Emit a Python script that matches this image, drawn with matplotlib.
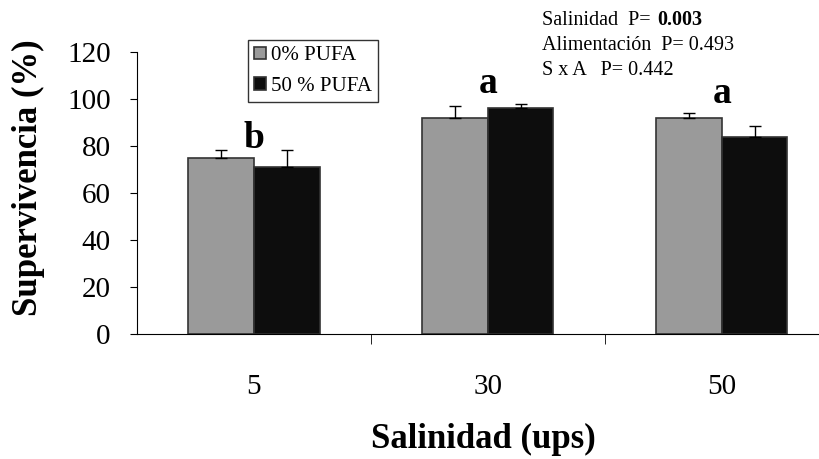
import numpy as np
import matplotlib
matplotlib.use('Agg')
import matplotlib.pyplot as plt

salinidad = ['5', '30', '50']
pufa0 = [75, 92, 92]
pufa0_err = [3.5, 5, 2]
pufa50 = [71, 96, 84]
pufa50_err = [7.5, 1.7, 4.6]
letras = ['b', 'a', 'a']
letras_y = [79, 102.5, 98.5]

plt.rcParams['font.family'] = ['Liberation Serif', 'DejaVu Serif']

fig = plt.figure(figsize=(8.19, 4.59), dpi=100)
ax = fig.add_axes([0.1673, 0.2723, 0.857, 0.6144])

x = np.arange(len(salinidad))
w = 0.28
ax.bar(x - w / 2, pufa0, w, color='#9a9a9a', edgecolor='#333333', linewidth=1.2, label='0% PUFA')
ax.bar(x + w / 2, pufa50, w, color='#0d0d0d', edgecolor='#333333', linewidth=1.2, label='50 % PUFA')
ax.errorbar(x - w / 2, pufa0, yerr=[np.zeros(3), pufa0_err], fmt='none', ecolor='black', elinewidth=1, capsize=4.5)
ax.errorbar(x + w / 2, pufa50, yerr=[np.zeros(3), pufa50_err], fmt='none', ecolor='black', elinewidth=1, capsize=4.5)

for i, l in enumerate(letras):
    ax.text(x[i], letras_y[i], l, ha='center', va='baseline', fontsize=27, fontweight='bold')

ax.set_xlim(-0.5, 2.5)
ax.set_ylim(0, 120)
ax.set_yticks(np.arange(0, 121, 20))
ax.tick_params(axis='y', labelsize=21, direction='out', length=5, pad=14)
ax.set_xticks(x)
ax.set_xticklabels(salinidad)
ax.tick_params(axis='x', which='major', length=0, labelsize=21, pad=29)
ax.set_xticks([0.5, 1.5, 2.5], minor=True)
ax.tick_params(axis='x', which='minor', length=7, direction='out')
ax.spines['top'].set_visible(False)
ax.spines['right'].set_visible(False)

fig.text(28 / 819, 1 - 178 / 459, 'Supervivencia (%)', rotation=90, fontsize=25,
         fontweight='bold', ha='center', va='center')
fig.text(483 / 819, 1 - 448 / 459, 'Salinidad (ups)', fontsize=25,
         fontweight='bold', ha='center', va='baseline')

leg = ax.legend(loc='upper left', bbox_to_anchor=(0.158, 1.0426), borderaxespad=0, fontsize=15,
                frameon=True, fancybox=False, edgecolor='black', handlelength=0.55, handleheight=0.55,
                handletextpad=0.25, borderpad=0.3, labelspacing=0.55)
leg.get_frame().set_linewidth(1)

# resultados del ANOVA
fig.text(542 / 819, 1 - 25 / 459, 'Salinidad  P= ', fontsize=14.5, va='baseline')
fig.text(657 / 819, 1 - 25 / 459, '0.003', fontsize=14.5, va='baseline', fontweight='bold')
fig.text(542 / 819, 1 - 50 / 459, 'Alimentación  P= 0.493', fontsize=14.5, va='baseline')
fig.text(542 / 819, 1 - 75 / 459, 'S x A   P= 0.442', fontsize=14.5, va='baseline')

fig.savefig('out.png', dpi=100)
